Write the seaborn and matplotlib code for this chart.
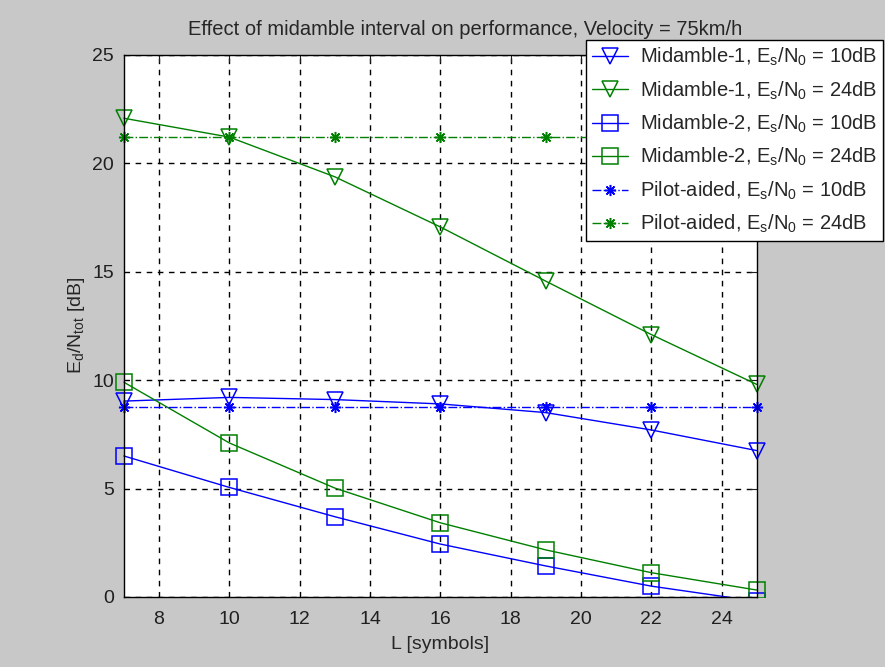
import numpy as np
import pandas as pd
import matplotlib
matplotlib.use("Agg")
import matplotlib.pyplot as plt
from matplotlib.patches import Rectangle
import seaborn as sns

# ------------------------------
# Data
# ------------------------------
L = [7, 10, 13, 16, 19, 22, 25]
mid1_10 = [9.03, 9.2, 9.1, 8.9, 8.5, 7.7, 6.75]
mid1_24 = [22.07, 21.2, 19.37, 17.06, 14.56, 12.1, 9.8]
mid2_10 = [6.5, 5.05, 3.7, 2.44, 1.43, 0.5, -0.2]
mid2_24 = [9.9, 7.1, 5.02, 3.42, 2.17, 1.12, 0.32]
pilot_10 = [8.74, 8.74, 8.74, 8.74, 8.74, 8.74, 8.74]
pilot_24 = [21.2, 21.2, 21.2, 21.2, 21.2, 21.2, 21.2]

es = r"$\mathregular{E_s/N_0}$"
labels = [f"Midamble-1, {es} = 10dB", f"Midamble-1, {es} = 24dB",
          f"Midamble-2, {es} = 10dB", f"Midamble-2, {es} = 24dB",
          f"Pilot-aided, {es} = 10dB", f"Pilot-aided, {es} = 24dB"]

blue = "#0000ff"
green = "#008000"

# ------------------------------
# Plot
# ------------------------------
sns.set_style("white")
plt.rcParams['font.family'] = ['Liberation Sans', 'DejaVu Sans']
plt.rcParams['font.size'] = 14

fig = plt.figure(figsize=(8.85, 6.67), dpi=100, facecolor="#c8c8c8")
ax = fig.add_axes([0.140, 0.105, 0.715, 0.813])
ax.set_facecolor("white")

asterisk = (8, 2, 0)
series = [
    (mid1_10, blue, "v", "-"),
    (mid1_24, green, "v", "-"),
    (mid2_10, blue, "s", "-"),
    (mid2_24, green, "s", "-"),
    (pilot_10, blue, asterisk, "-."),
    (pilot_24, green, asterisk, "-."),
]
for (vals, col, mk, ls), lab in zip(series, labels):
    df = pd.DataFrame({"L": L, "val": vals})
    sns.lineplot(data=df, x="L", y="val", ax=ax, color=col, marker=mk,
                 linestyle=ls, linewidth=1.0,
                 markersize=11 if mk != asterisk else 8,
                 markerfacecolor="none", markeredgecolor=col,
                 markeredgewidth=1.1, label=lab)

# let edge markers overhang the axes sideways, but keep the y=0 cut
clip = Rectangle((-0.05, 0), 1.1, 1.1, transform=ax.transAxes)
for line in ax.get_lines():
    line.set_clip_path(clip)

ax.set_xlim(7, 25)
ax.set_ylim(0, 25)
ax.set_xticks([8, 10, 12, 14, 16, 18, 20, 22, 24])
ax.set_yticks([0, 5, 10, 15, 20, 25])
ax.grid(True, color="black", linestyle=(0, (4, 4)), linewidth=1.0)
ax.tick_params(direction="in", length=5, top=True, right=True,
               labelsize=14, colors="#202020")
ax.tick_params(axis="x", pad=10)
ax.tick_params(axis="y", pad=7)
for s in ax.spines.values():
    s.set_color("black")
    s.set_linewidth(1.0)

ax.set_xlabel("L [symbols]", fontsize=14, labelpad=6)
ax.set_ylabel(r"$\mathregular{E_d/N_{tot}}$ [dB]", fontsize=14, labelpad=4)
ax.set_title("Effect of midamble interval on performance, Velocity = 75km/h",
             fontsize=14.5, pad=14, x=0.539)

leg = ax.legend(loc="upper right", bbox_to_anchor=(0.998, 0.94),
                bbox_transform=fig.transFigure, fancybox=False,
                edgecolor="black", framealpha=1, fontsize=14.5,
                handlelength=1.8, borderpad=0.3, labelspacing=0.55,
                handletextpad=0.6, borderaxespad=0)
leg.get_frame().set_linewidth(1.0)

fig.savefig("out.png", dpi=100, facecolor=fig.get_facecolor())
